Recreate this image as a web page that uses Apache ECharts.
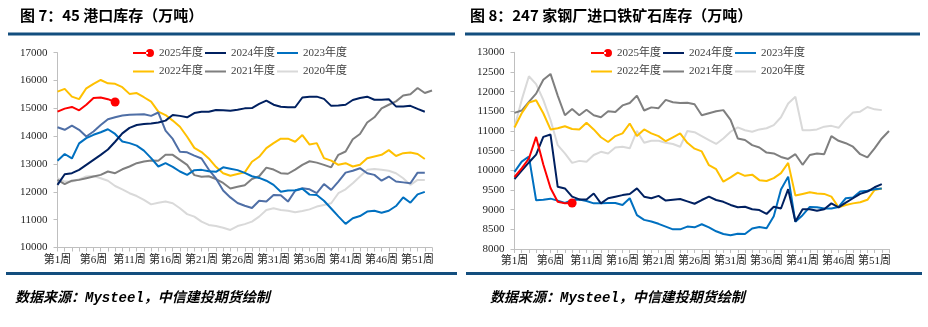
<!DOCTYPE html>
<html>
<head>
<meta charset="utf-8">
<script src="https://cdn.jsdelivr.net/npm/echarts@6/dist/echarts.min.js"></script>
<style>
  html, body { margin: 0; padding: 0; background: #fff; }
  #chart { width: 928px; height: 327px; }
</style>
</head>
<body>
<div id="chart"></div>
<script>
// Week categories shared by both panels
const weeks = Array.from({ length: 53 }, (_, i) => '第' + (i + 1) + '周');

// Panel 1: 45 port inventory (10k t)
const port2025 = [14880, 14990, 15050, 14930, 15130, 15370, 15390, 15330, 15230];
const port2024 = [12250, 12630, 12670, 12790, 12970, 13150, 13330, 13520, 13800, 14100,
  14300, 14400, 14440, 14460, 14490, 14560, 14760, 14730, 14680, 14830,
  14880, 14880, 14940, 14930, 14910, 14950, 15000, 15010, 15160, 15280,
  15130, 15060, 15040, 15040, 15390, 15420, 15420, 15340, 15090, 15100,
  15130, 15300, 15370, 15420, 15310, 15310, 15330, 15070, 15070, 15090,
  14980, 14880];
const port2023 = [13120, 13360, 13200, 13740, 13930, 14050, 14140, 14250, 14080, 13810,
  13750, 13660, 13480, 13210, 12910, 13030, 12900, 12730, 12610, 12780,
  12790, 12740, 12720, 12880, 12830, 12780, 12680, 12560, 12500, 12400,
  12250, 12000, 12050, 12060, 12110, 11900, 11890, 11680, 11400, 11120,
  10850, 11050, 11130, 11290, 11320, 11250, 11320, 11490, 11800, 11610,
  11910, 12000];
const port2022 = [15600, 15700, 15420, 15330, 15720, 15880, 16020, 15900, 15880, 15760,
  15520, 15550, 15400, 15240, 14880, 14760, 14560, 14340, 13980, 13580,
  13430, 13200, 12900, 12670, 12580, 12640, 12700, 13080, 13260, 13570,
  13750, 13910, 13910, 13800, 14040, 13700, 13750, 13210, 13120, 12970,
  13030, 12910, 12970, 13210, 13270, 13330, 13500, 13290, 13390, 13410,
  13360, 13180];
const port2021 = [12430, 12280, 12400, 12430, 12490, 12550, 12610, 12730, 12670, 12810,
  12910, 13030, 13090, 13130, 13120, 13330, 13330, 13150, 12970, 12600,
  12540, 12560, 12460, 12320, 12120, 12180, 12240, 12460, 12560, 12870,
  12800, 12670, 12650, 12800, 12970, 13100, 13050, 12970, 12880, 13330,
  13450, 13890, 14080, 14490, 14680, 15000, 15130, 15250, 15460, 15510,
  15730, 15550, 15640];
const port2020 = [12490, 12370, 12370, 12450, 12550, 12570, 12490, 12400, 12210, 12090,
  11950, 11850, 11710, 11550, 11610, 11650, 11590, 11410, 11200, 11110,
  10930, 10810, 10770, 10710, 10630, 10770, 10840, 10930, 11110, 11350,
  11410, 11350, 11320, 11270, 11310, 11370, 11470, 11530, 11590, 11950,
  12090, 12310, 12550, 12790, 12820, 12790, 12760, 12670, 12490, 12250,
  12430, 12430];
const port2019 = [14320, 14230, 14380, 14230, 13990, 14170, 14400, 14610, 14680, 14740,
  14770, 14780, 14790, 14730, 14850, 14200, 13900, 13440, 13420, 13300,
  13200, 12800, 12480, 12050, 11800, 11600, 11500, 11420, 11680, 11650,
  11890, 11880, 11650, 12040, 12130, 12090, 11950, 12280, 12070, 12370,
  12690, 12760, 12850, 12670, 12610, 12400, 12550, 12370, 12340, 12310,
  12690, 12690];

// Panel 2: imported ore stocks at 247 steel mills (10k t)
const mill2025 = [9830, 10050, 10300, 10850, 10150, 9550, 9200, 9160, 9170];
const mill2024 = [9780, 9990, 10200, 10400, 10850, 10910, 9580, 9540, 9330, 9260,
  9260, 9410, 9160, 9290, 9330, 9370, 9400, 9540, 9330, 9290,
  9350, 9230, 9250, 9270, 9210, 9150, 9245, 9330, 9245, 9200,
  9120, 9060, 9075, 9010, 8990, 8890, 9075, 9030, 9520, 8700,
  9010, 9010, 8970, 9010, 9160, 9060, 9180, 9290, 9400, 9460,
  9570, 9650];
const mill2023 = [9960, 10220, 10350, 9240, 9250, 9280, 9230, 9170, 9240, 9260,
  9220, 9160, 9160, 9170, 9170, 9120, 9290, 8860, 8740, 8700,
  8640, 8570, 8500, 8500, 8570, 8550, 8630, 8550, 8450, 8380,
  8350, 8390, 8380, 8520, 8560, 8530, 8830, 9510, 9840, 8690,
  8860, 9070, 9060, 9030, 9030, 9070, 9290, 9310, 9460, 9480,
  9520, 9540];
const mill2022 = [11090, 11450, 11720, 11780, 11450, 11040, 11070, 11120, 11050, 11040,
  11210, 11040, 10840, 10720, 10870, 10940, 11190, 10870, 11040, 10940,
  10870, 10740, 10840, 10940, 10700, 10550, 10480, 10130, 10030, 9710,
  9820, 9940, 9860, 9890, 9750, 9730, 9800, 9930, 10190, 9360,
  9400, 9440, 9410, 9400, 9330, 9060, 9120, 9160, 9190, 9250,
  9500, 9540];
const mill2021 = [11460, 11520, 11740, 11950, 12300, 12450, 11900, 11400, 11560, 11400,
  11540, 11400, 11350, 11500, 11480, 11650, 11710, 11900, 11520, 11600,
  11580, 11790, 11730, 11710, 11720, 11680, 11400, 11450, 11500, 11530,
  11280, 10810, 10770, 10640, 10580, 10450, 10430, 10340, 10290, 10410,
  10140, 10390, 10430, 10410, 10870, 10750, 10690, 10600, 10410, 10330,
  10560, 10810, 11000];
const mill2020 = [11100, 11790, 12390, 12190, 11790, 11280, 10640, 10430, 10190, 10240,
  10220, 10390, 10470, 10430, 10580, 10600, 10560, 11000, 10700, 10750,
  10750, 10700, 10670, 10600, 11000, 10970, 10870, 10770, 10670, 10810,
  10980, 11090, 11020, 10980, 11040, 11070, 11150, 11350, 11700, 11870,
  11020, 11020, 11040, 11110, 11130, 11080, 11300, 11470, 11490, 11610,
  11550, 11530];

const legendRow1 = ['2025年度', '2024年度', '2023年度'];
const legendRow2 = ['2022年度', '2021年度', '2020年度'];

const COLORS = {
  '2025年度': '#ff0000',
  '2024年度': '#002060',
  '2023年度': '#0070c0',
  '2022年度': '#ffc000',
  '2021年度': '#7f7f7f',
  '2020年度': '#d9d9d9',
  '2019年度': '#4f6fa6'
};

const SERIF = "'Liberation Serif', 'Noto Sans CJK SC', serif";
const SANS = "'Noto Sans CJK SC', sans-serif";
const FOOT = "'Liberation Mono', 'Noto Sans CJK SC', monospace";
const RULE = '#134e7e';
const AXIS_GRAY = '#bfbfbf';
const TEXT = '#262626';

// legend icons: thin line inside a 21x10 box (corner specks fix the bounding box)
const BOX = ' M0,0h0.01v0.01h-0.01Z M0,10h0.01v-0.01h-0.01Z M21,0h0.01v0.01h-0.01Z';
const lineIcon = 'path://M0,4H21V6H0Z' + BOX;
const dotIcon = 'path://M0,4H15V6H0Z M13,5a4,4 0 1,0 8,0a4,4 0 1,0 -8,0Z' + BOX;

function legendItems(names) {
  return names.map(n => ({ name: n, icon: n === '2025年度' ? dotIcon : lineIcon }));
}

function makeLegend(names, left, top) {
  return {
    data: legendItems(names),
    left: left, top: top,
    orient: 'horizontal',
    itemWidth: 21, itemHeight: 10, itemGap: 2,
    padding: 0,
    selectedMode: false,
    textStyle: { fontFamily: SERIF, fontSize: 11, color: '#404040' }
  };
}

function lineSeries(name, data, idx, withEndDot) {
  const values = data.map((v, i) =>
    (withEndDot && i === data.length - 1) ? { value: v, symbol: 'circle', symbolSize: 9 } : v);
  return {
    name: name, type: 'line',
    xAxisIndex: idx, yAxisIndex: idx,
    data: values,
    symbol: 'none', showAllSymbol: true,
    itemStyle: { color: COLORS[name] },
    lineStyle: { color: COLORS[name], width: 2 },
    emphasis: { disabled: true },
    silent: true
  };
}

function xAxis(idx) {
  return {
    gridIndex: idx, type: 'category', data: weeks, boundaryGap: false,
    axisLine: { lineStyle: { color: AXIS_GRAY, width: 1 } },
    axisTick: { interval: 0, length: 4, lineStyle: { color: AXIS_GRAY } },
    axisLabel: { interval: 4, fontFamily: SERIF, fontSize: 11, color: TEXT, margin: 7 },
    splitLine: { show: false }
  };
}

function yAxis(idx, min, max, step) {
  return {
    gridIndex: idx, type: 'value', min: min, max: max, interval: step,
    axisLine: { show: true, lineStyle: { color: AXIS_GRAY, width: 1 } },
    axisTick: { show: true, length: 4, lineStyle: { color: AXIS_GRAY } },
    axisLabel: { fontFamily: SERIF, fontSize: 11, color: TEXT, margin: 10,
      formatter: v => String(v) },
    splitLine: { show: false }
  };
}

function rule(x, y, w) {
  return { type: 'rect', shape: { x: x, y: y, width: w, height: 3 }, style: { fill: RULE }, silent: true };
}

function label(text, x, y, opts) {
  return {
    type: 'text', x: x, y: y, silent: true,
    style: Object.assign({ text: text, fill: '#000', verticalAlign: 'middle', align: 'left' }, opts)
  };
}

const chart = echarts.init(document.getElementById('chart'), null, { renderer: 'canvas' });

chart.setOption({
  animation: false,
  backgroundColor: '#ffffff',
  grid: [
    { left: 57.5, top: 52.7, width: 374.5, height: 194.8 },
    { left: 514.5, top: 52.3, width: 374.5, height: 196.7 }
  ],
  xAxis: [xAxis(0), xAxis(1)],
  yAxis: [yAxis(0, 10000, 17000, 1000), yAxis(1, 8000, 13000, 500)],
  legend: [
    makeLegend(legendRow1, 133, 47.5),
    makeLegend(legendRow2, 133, 66),
    makeLegend(legendRow1, 591, 47.5),
    makeLegend(legendRow2, 591, 66)
  ],
  series: [
    lineSeries('2020年度', port2020, 0),
    lineSeries('2021年度', port2021, 0),
    lineSeries('2022年度', port2022, 0),
    lineSeries('2019年度', port2019, 0),
    lineSeries('2023年度', port2023, 0),
    lineSeries('2024年度', port2024, 0),
    lineSeries('2025年度', port2025, 0, true),

    lineSeries('2020年度', mill2020, 1),
    lineSeries('2021年度', mill2021, 1),
    lineSeries('2022年度', mill2022, 1),
    lineSeries('2023年度', mill2023, 1),
    lineSeries('2024年度', mill2024, 1),
    lineSeries('2025年度', mill2025, 1, true)
  ],
  graphic: [
    label('图 7：45 港口库存（万吨）', 20, 15,
      { fontFamily: SANS, fontSize: 15, fontWeight: 'bold' }),
    label('图 8：247 家钢厂进口铁矿石库存（万吨）', 470, 15,
      { fontFamily: SANS, fontSize: 15, fontWeight: 'bold' }),
    rule(8, 32.5, 447),
    rule(465, 32.5, 455),
    rule(6, 272, 451),
    rule(466, 272, 456),
    label('数据来源：Mysteel，中信建投期货绘制', 15, 298,
      { fontFamily: FOOT, fontSize: 14, fontWeight: 'bold', fontStyle: 'italic' }),
    label('数据来源：Mysteel，中信建投期货绘制', 490, 298,
      { fontFamily: FOOT, fontSize: 14, fontWeight: 'bold', fontStyle: 'italic' })
  ]
});
</script>
</body>
</html>
